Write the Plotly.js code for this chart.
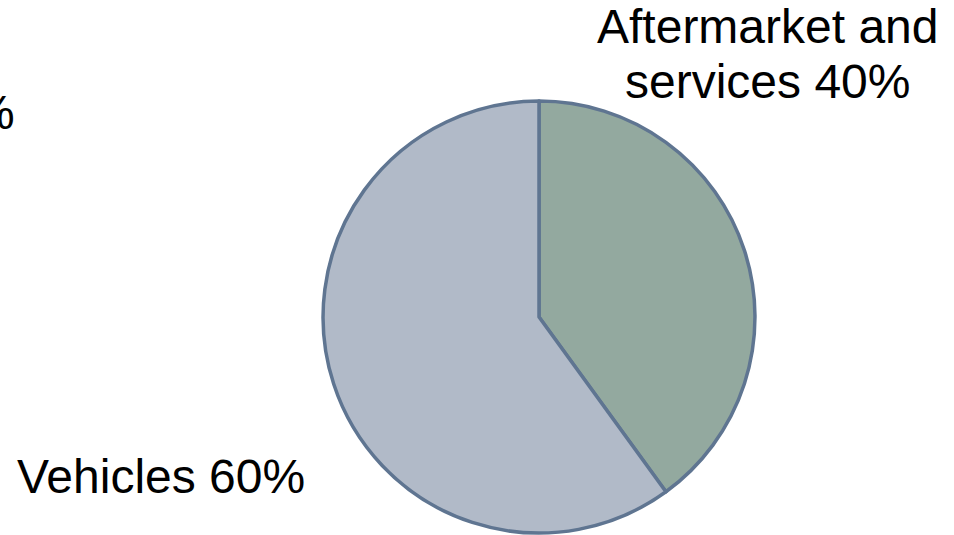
<!DOCTYPE html>
<html>
<head>
<meta charset="utf-8">
<script src="https://cdn.plot.ly/plotly-3.0.1.min.js"></script>
<style>html,body{margin:0;padding:0;background:#fff;}#chart{width:954px;height:535px;}</style>
</head>
<body>
<div id="chart"></div>
<script>
const labels = ['Aftermarket and services', 'Vehicles'];
const values = [40, 60];
const labelLines = [['Aftermarket and', 'services'], ['Vehicles']];
const sliceColors = ['#93a99f', '#b1bac8'];
const clippedText = '%';

const fontFam = 'Liberation Sans, Arial, sans-serif';
const total = values.reduce((a, b) => a + b, 0);
const pct = values.map(v => Math.round(v / total * 100) + '%');

const trace = {
  type: 'pie',
  labels: labels,
  values: values,
  sort: false,
  direction: 'clockwise',
  rotation: 0,
  textinfo: 'none',
  hoverinfo: 'none',
  showlegend: false,
  marker: { colors: sliceColors, line: { color: '#5f7591', width: 3.5 } },
  domain: { x: [0.3386, 0.7914], y: [0.0037, 0.811] }
};

const fs = 48;
const txtFont = { family: fontFam, size: fs, color: '#000' };
function ann(text, px, py, xanchor) {
  return { xref: 'paper', yref: 'paper', x: px / 954, y: 1 - py / 535,
    xanchor: xanchor || 'center', yanchor: 'middle', text: text, showarrow: false, font: txtFont };
}

const layout = {
  width: 954, height: 535,
  margin: { l: 0, r: 0, t: 0, b: 0 },
  paper_bgcolor: '#ffffff',
  plot_bgcolor: '#ffffff',
  font: { family: fontFam, color: '#000000', size: fs },
  annotations: [
    ann(labelLines[0][0], 767, 26),
    ann(labelLines[0][1] + ' ' + pct[0], 767, 81),
    ann(labelLines[1][0] + ' ' + pct[1], 161, 476),
    ann(clippedText, 17, 113, 'right')
  ]
};

Plotly.newPlot('chart', [trace], layout, { displayModeBar: false, staticPlot: true });
</script>
</body>
</html>
